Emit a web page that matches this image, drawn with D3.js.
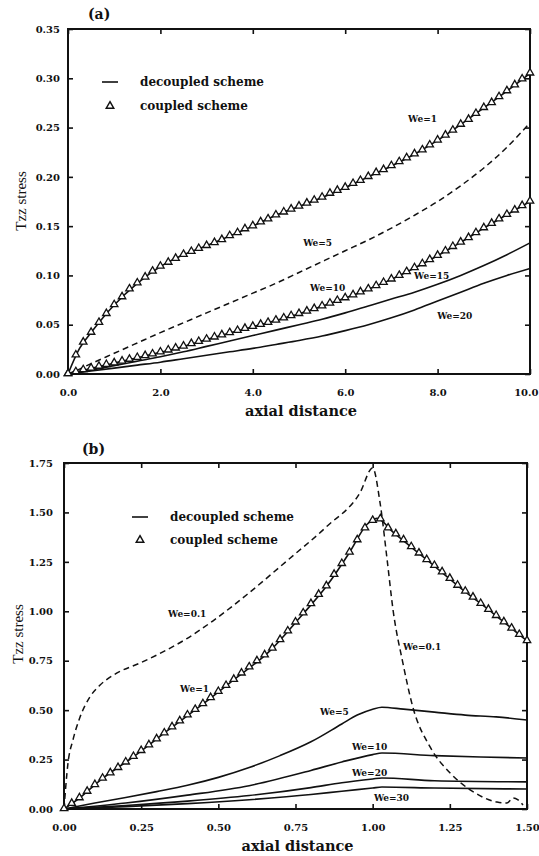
<!DOCTYPE html>
<html>
<head>
<meta charset="utf-8">
<script src="https://cdn.jsdelivr.net/npm/d3@7"></script>
<style>
  html, body { margin: 0; padding: 0; background: #fff; }
  svg { display: block; }
  .tick text { font-family: "DejaVu Serif", serif; font-weight: bold; font-size: 10px; fill: #111; }
  .tick line { stroke: #111; stroke-width: 1.6; }
</style>
</head>
<body>
<svg id="fig" width="539" height="856"></svg>
<script>
// ---------- Panel (a): Tzz stress vs axial distance, 0..10 ----------
const axialA = [0, 0.25, 0.5, 1, 1.5, 2, 2.5, 3, 3.5, 4, 4.5, 5, 5.5, 6, 6.5, 7, 7.5, 8, 8.5, 9, 9.5, 10];
const we1A  = [0, 0.026, 0.042, 0.070, 0.092, 0.109, 0.121, 0.130, 0.140, 0.150, 0.161, 0.170, 0.179, 0.189, 0.200, 0.211, 0.223, 0.237, 0.253, 0.270, 0.287, 0.305];
const we5A  = [0, 0.005, 0.0105, 0.021, 0.0315, 0.042, 0.052, 0.062, 0.072, 0.082, 0.092, 0.103, 0.114, 0.125, 0.136, 0.148, 0.161, 0.175, 0.191, 0.209, 0.230, 0.255];
const we10A = [0, 0.0028, 0.0057, 0.011, 0.0164, 0.022, 0.028, 0.035, 0.0416, 0.048, 0.0543, 0.061, 0.0687, 0.077, 0.086, 0.096, 0.1075, 0.120, 0.1335, 0.148, 0.1615, 0.175];
const we15A = [0, 0.002, 0.004, 0.0085, 0.013, 0.0175, 0.0225, 0.028, 0.0335, 0.039, 0.0445, 0.050, 0.0555, 0.062, 0.069, 0.076, 0.083, 0.091, 0.100, 0.110, 0.121, 0.133];
const we20A = [0, 0.0015, 0.003, 0.006, 0.009, 0.012, 0.0155, 0.019, 0.0225, 0.026, 0.030, 0.034, 0.0385, 0.044, 0.050, 0.057, 0.065, 0.074, 0.083, 0.092, 0.100, 0.107];

// coupled-scheme stations (panel a)
const coupledAxialA = [0, 0.17, 0.33, 0.5, 0.67, 0.83, 1, 1.17, 1.33, 1.5, 1.67, 1.83, 2, 2.17, 2.33, 2.5, 2.67, 2.83, 3, 3.17, 3.33, 3.5, 3.67, 3.83, 4, 4.17, 4.33, 4.5, 4.67, 4.83, 5, 5.17, 5.33, 5.5, 5.67, 5.83, 6, 6.17, 6.33, 6.5, 6.67, 6.83, 7, 7.17, 7.33, 7.5, 7.67, 7.83, 8, 8.17, 8.33, 8.5, 8.67, 8.83, 9, 9.17, 9.33, 9.5, 9.67, 9.83, 10];
const coupledWe1A = [0, 0.019, 0.032, 0.042, 0.052, 0.061, 0.070, 0.078, 0.086, 0.092, 0.098, 0.104, 0.109, 0.113, 0.117, 0.121, 0.124, 0.127, 0.130, 0.133, 0.136, 0.140, 0.143, 0.147, 0.150, 0.154, 0.157, 0.161, 0.164, 0.167, 0.170, 0.173, 0.176, 0.179, 0.183, 0.186, 0.189, 0.193, 0.196, 0.200, 0.204, 0.207, 0.211, 0.215, 0.219, 0.223, 0.227, 0.232, 0.237, 0.242, 0.247, 0.253, 0.258, 0.264, 0.270, 0.275, 0.281, 0.287, 0.293, 0.299, 0.305];
const coupledWe10A = [0, 0.002, 0.004, 0.0057, 0.0075, 0.0093, 0.011, 0.0128, 0.0146, 0.0164, 0.0183, 0.020, 0.022, 0.024, 0.026, 0.028, 0.0305, 0.0327, 0.035, 0.0372, 0.0394, 0.0416, 0.0438, 0.046, 0.048, 0.050, 0.052, 0.0543, 0.0565, 0.0588, 0.061, 0.0635, 0.066, 0.0687, 0.0715, 0.0743, 0.077, 0.080, 0.083, 0.086, 0.0892, 0.0925, 0.096, 0.0997, 0.1035, 0.1075, 0.1115, 0.1157, 0.120, 0.1245, 0.129, 0.1335, 0.138, 0.143, 0.148, 0.1525, 0.157, 0.1615, 0.166, 0.1705, 0.175];

const xTicksA = [0, 2, 4, 6, 8, 10];
const yTicksA = [0, 0.05, 0.10, 0.15, 0.20, 0.25, 0.30, 0.35];

// ---------- Panel (b): Tzz stress vs axial distance, 0..1.5 ----------
const axialWe01B = [0, 0.013, 0.029, 0.052, 0.084, 0.117, 0.172, 0.246, 0.311, 0.398, 0.483, 0.593, 0.722, 0.852, 0.959, 1.0, 1.024, 1.047, 1.066, 1.098, 1.130, 1.186, 1.251, 1.317, 1.403, 1.435, 1.455, 1.471, 1.487];
const we01B = [0, 0.233, 0.349, 0.465, 0.567, 0.627, 0.688, 0.738, 0.787, 0.862, 0.952, 1.085, 1.255, 1.43, 1.60, 1.725, 1.548, 1.259, 1.007, 0.738, 0.516, 0.314, 0.182, 0.096, 0.035, 0.030, 0.056, 0.046, 0.020];

const axialWe1B = [0, 0.05, 0.117, 0.224, 0.334, 0.441, 0.547, 0.667, 0.765, 0.852, 0.926, 0.982, 1.014, 1.066, 1.176, 1.283, 1.390, 1.5];
const we1B = [0, 0.055, 0.145, 0.263, 0.395, 0.52, 0.65, 0.80, 0.97, 1.13, 1.30, 1.44, 1.47, 1.40, 1.26, 1.12, 0.99, 0.85];

const axialWe5B = [0, 0.1, 0.2, 0.3, 0.4, 0.5, 0.6, 0.7, 0.8, 0.9, 0.95, 1.0, 1.03, 1.1, 1.2, 1.3, 1.4, 1.5];
const we5B = [0, 0.03, 0.058, 0.088, 0.12, 0.16, 0.21, 0.27, 0.34, 0.43, 0.475, 0.505, 0.515, 0.505, 0.49, 0.475, 0.466, 0.45];

const axialWe10B = [0, 0.2, 0.4, 0.6, 0.8, 0.9, 1.0, 1.03, 1.2, 1.35, 1.5];
const we10B = [0, 0.03, 0.07, 0.118, 0.195, 0.238, 0.275, 0.283, 0.27, 0.263, 0.258];

const axialWe20B = [0, 0.2, 0.4, 0.6, 0.8, 0.9, 1.0, 1.03, 1.2, 1.5];
const we20B = [0, 0.018, 0.04, 0.068, 0.108, 0.133, 0.152, 0.157, 0.143, 0.137];
const we30B = [0, 0.012, 0.027, 0.047, 0.073, 0.09, 0.106, 0.111, 0.106, 0.101];

// coupled-scheme stations (panel b)
const coupledAxialB = [0, 0.025, 0.05, 0.075, 0.1, 0.125, 0.15, 0.175, 0.2, 0.225, 0.25, 0.275, 0.3, 0.325, 0.35, 0.375, 0.4, 0.425, 0.45, 0.475, 0.5, 0.525, 0.55, 0.575, 0.6, 0.625, 0.65, 0.675, 0.7, 0.725, 0.75, 0.775, 0.8, 0.825, 0.85, 0.875, 0.9, 0.925, 0.95, 0.975, 1.0, 1.025, 1.05, 1.075, 1.1, 1.125, 1.15, 1.175, 1.2, 1.225, 1.25, 1.275, 1.3, 1.325, 1.35, 1.375, 1.4, 1.425, 1.45, 1.475, 1.5];
const coupledWe1B = [0, 0.027, 0.055, 0.088, 0.122, 0.154, 0.181, 0.208, 0.236, 0.264, 0.294, 0.323, 0.353, 0.383, 0.414, 0.444, 0.474, 0.502, 0.531, 0.562, 0.593, 0.623, 0.654, 0.686, 0.717, 0.748, 0.778, 0.812, 0.855, 0.899, 0.944, 0.99, 1.037, 1.084, 1.127, 1.185, 1.24, 1.297, 1.36, 1.42, 1.458, 1.466, 1.42, 1.39, 1.36, 1.325, 1.293, 1.26, 1.23, 1.198, 1.165, 1.13, 1.10, 1.07, 1.038, 1.008, 0.977, 0.945, 0.913, 0.881, 0.85];

const xTicksB = [0, 0.25, 0.5, 0.75, 1.0, 1.25, 1.5];
const yTicksB = [0, 0.25, 0.5, 0.75, 1.0, 1.25, 1.5, 1.75];

// ---------- drawing ----------
const svg = d3.select("#fig");
svg.append("rect").attr("width", 539).attr("height", 856).attr("fill", "#fff");

const zip = (xs, ys) => xs.map((x, i) => [x, ys[i]]);

function drawPanel(cfg) {
  const { box, xDomain, yDomain, xTicks, yTicks, xFmt, yFmt } = cfg;
  const x = d3.scaleLinear().domain(xDomain).range([box.left, box.right]);
  const y = d3.scaleLinear().domain(yDomain).range([box.bottom, box.top]);
  const g = svg.append("g");

  // axes with inward ticks on all four sides
  const bottomAxis = g.append("g").attr("transform", `translate(0,${box.bottom})`)
    .call(d3.axisBottom(x).tickValues(xTicks).tickSize(-5).tickPadding(15).tickFormat(xFmt))
    .call(s => s.select(".domain").remove());
  if (cfg.lastTickShift) {
    // keep the right-most label inside the page
    bottomAxis.selectAll(".tick:last-of-type text")
      .attr("text-anchor", "end").attr("dx", cfg.lastTickShift);
  }
  g.append("g").attr("transform", `translate(0,${box.top})`)
    .call(d3.axisTop(x).tickValues(xTicks).tickSize(-5).tickFormat(""))
    .call(s => s.select(".domain").remove());
  g.append("g").attr("transform", `translate(${box.left},0)`)
    .call(d3.axisLeft(y).tickValues(yTicks).tickSize(-5).tickPadding(cfg.yPad).tickFormat(yFmt))
    .call(s => s.select(".domain").remove());
  g.append("g").attr("transform", `translate(${box.right},0)`)
    .call(d3.axisRight(y).tickValues(yTicks).tickSize(-5).tickFormat(""))
    .call(s => s.select(".domain").remove());

  g.append("rect")
    .attr("x", box.left).attr("y", box.top)
    .attr("width", box.right - box.left).attr("height", box.bottom - box.top)
    .attr("fill", "none").attr("stroke", "#111").attr("stroke-width", 2);

  const line = d3.line().x(d => x(d[0])).y(d => y(d[1])).curve(d3.curveMonotoneX);

  cfg.series.forEach(s => {
    g.append("path").datum(zip(s.x, s.y))
      .attr("d", line)
      .attr("fill", "none").attr("stroke", "#111")
      .attr("stroke-width", s.dashed ? 1.5 : 1.6)
      .attr("stroke-dasharray", s.dashed ? "6,4" : null);
  });

  const tri = d3.symbol().type(d3.symbolTriangle).size(24);
  cfg.coupled.forEach(c => {
    g.append("g").selectAll("path").data(zip(c.x, c.y)).join("path")
      .attr("d", tri)
      .attr("transform", d => `translate(${x(d[0])},${y(d[1]) - 0.5})`)
      .attr("fill", "#fff").attr("stroke", "#111").attr("stroke-width", 1.3);
  });

  cfg.labels.forEach(l => {
    g.append("text").attr("x", x(l.x)).attr("y", y(l.y))
      .attr("dominant-baseline", "central")
      .attr("font-family", "DejaVu Serif, serif").attr("font-weight", "bold")
      .attr("font-size", 9).attr("fill", "#111")
      .text(l.text);
  });

  // legend
  const lg = cfg.legend;
  g.append("line")
    .attr("x1", box.left + lg.lineX[0]).attr("x2", box.left + lg.lineX[1])
    .attr("y1", box.top + lg.row1).attr("y2", box.top + lg.row1)
    .attr("stroke", "#111").attr("stroke-width", 1.6);
  g.append("path").attr("d", tri)
    .attr("transform", `translate(${box.left + lg.triX},${box.top + lg.row2})`)
    .attr("fill", "#fff").attr("stroke", "#111").attr("stroke-width", 1.5);
  [["decoupled scheme", lg.row1], ["coupled scheme", lg.row2]].forEach(([t, r]) => {
    g.append("text").attr("x", box.left + lg.textX).attr("y", box.top + r)
      .attr("dominant-baseline", "central")
      .attr("font-family", "DejaVu Serif, serif").attr("font-weight", "bold")
      .attr("font-size", 12).attr("fill", "#111").text(t);
  });

  // panel tag, axis titles
  svg.append("text").attr("x", cfg.tag.x).attr("y", cfg.tag.y)
    .attr("dominant-baseline", "central")
    .attr("font-family", "DejaVu Serif, serif").attr("font-weight", "bold")
    .attr("font-size", 14).attr("fill", "#111").text(cfg.tag.text);

  svg.append("text")
    .attr("x", (box.left + box.right) / 2 + 2).attr("y", box.bottom + 36)
    .attr("text-anchor", "middle").attr("dominant-baseline", "central")
    .attr("font-family", "DejaVu Serif, serif").attr("font-weight", "bold")
    .attr("font-size", 14.5).attr("fill", "#111").text("axial distance");

  svg.append("text")
    .attr("transform", `translate(${cfg.yTitle.x},${cfg.yTitle.y}) rotate(-90)`)
    .attr("text-anchor", "middle").attr("dominant-baseline", "central")
    .attr("font-family", "Liberation Serif, serif")
    .attr("font-size", 15).attr("fill", "#111").text("Tzz stress");
}

drawPanel({
  box: { left: 68, right: 530, top: 29, bottom: 374 },
  xDomain: [0, 10], yDomain: [0, 0.35],
  xTicks: xTicksA, yTicks: yTicksA,
  xFmt: d3.format(".1f"), yFmt: d3.format(".2f"), yPad: 8,
  lastTickShift: 8,
  series: [
    { x: axialA, y: we1A },
    { x: axialA, y: we5A, dashed: true },
    { x: axialA, y: we10A },
    { x: axialA, y: we15A },
    { x: axialA, y: we20A }
  ],
  coupled: [
    { x: coupledAxialA, y: coupledWe1A },
    { x: coupledAxialA, y: coupledWe10A }
  ],
  labels: [
    { text: "We=1",  x: 7.36, y: 0.259 },
    { text: "We=5",  x: 5.09, y: 0.133 },
    { text: "We=10", x: 5.24, y: 0.0875 },
    { text: "We=15", x: 7.49, y: 0.0997 },
    { text: "We=20", x: 7.99, y: 0.059 }
  ],
  legend: { lineX: [34, 50], triX: 42, textX: 72, row1: 53, row2: 77 },
  tag: { text: "(a)", x: 88, y: 14 },
  yTitle: { x: 21, y: 201 }
});

drawPanel({
  box: { left: 64, right: 527, top: 463, bottom: 809 },
  xDomain: [0, 1.5], yDomain: [0, 1.75],
  xTicks: xTicksB, yTicks: yTicksB,
  xFmt: d3.format(".2f"), yFmt: d3.format(".2f"), yPad: 11,
  series: [
    { x: axialWe01B, y: we01B, dashed: true },
    { x: axialWe1B, y: we1B },
    { x: axialWe5B, y: we5B },
    { x: axialWe10B, y: we10B },
    { x: axialWe20B, y: we20B },
    { x: axialWe20B, y: we30B }
  ],
  coupled: [
    { x: coupledAxialB, y: coupledWe1B }
  ],
  labels: [
    { text: "We=0.1", x: 0.337, y: 0.986 },
    { text: "We=1",   x: 0.376, y: 0.607 },
    { text: "We=0.1", x: 1.098, y: 0.819 },
    { text: "We=5",   x: 0.829, y: 0.491 },
    { text: "We=10",  x: 0.933, y: 0.314 },
    { text: "We=20",  x: 0.933, y: 0.182 },
    { text: "We=30",  x: 1.004, y: 0.056 }
  ],
  legend: { lineX: [68, 84], triX: 76, textX: 106, row1: 54, row2: 77 },
  tag: { text: "(b)", x: 82, y: 449 },
  yTitle: { x: 18, y: 634 }
});
</script>
</body>
</html>
